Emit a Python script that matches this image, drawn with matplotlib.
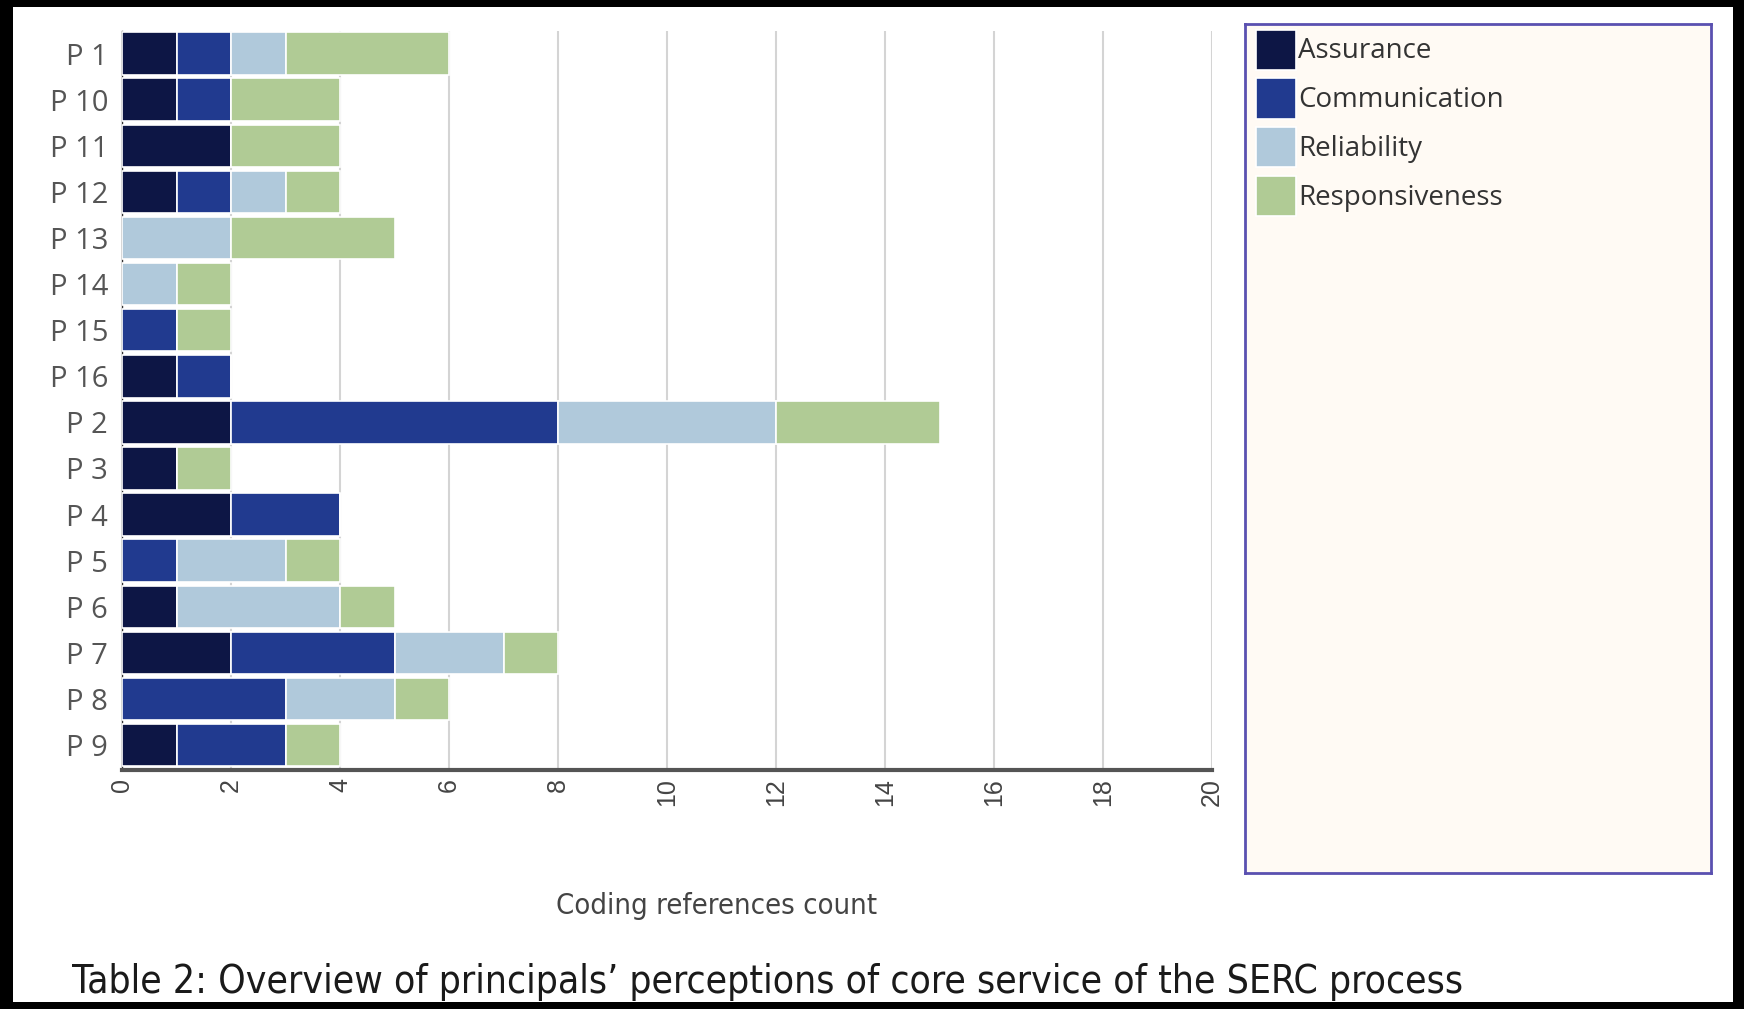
import matplotlib.pyplot as plt
from matplotlib.patches import Rectangle
import numpy as np

# participants, in the order they appear top to bottom
participants = ["P 1", "P 10", "P 11", "P 12", "P 13", "P 14", "P 15", "P 16",
                "P 2", "P 3", "P 4", "P 5", "P 6", "P 7", "P 8", "P 9"]

assurance      = [1, 1, 2, 1, 0, 0, 0, 1, 2, 1, 2, 0, 1, 2, 0, 1]
communication  = [1, 1, 0, 1, 0, 0, 1, 1, 6, 0, 2, 1, 0, 3, 3, 2]
reliability    = [1, 0, 0, 1, 2, 1, 0, 0, 4, 0, 0, 2, 3, 2, 2, 0]
responsiveness = [3, 2, 2, 1, 3, 1, 1, 0, 3, 1, 0, 1, 1, 1, 1, 1]

series = [("Assurance", assurance, "#0d1645"),
          ("Communication", communication, "#213a8f"),
          ("Reliability", reliability, "#b0c9db"),
          ("Responsiveness", responsiveness, "#b0cb95")]

W, H = 1744, 1009
fig = plt.figure(figsize=(W / 100, H / 100), dpi=100)
fig.patch.set_facecolor("black")
# white page inside the thick black frame
fig.add_artist(Rectangle((13 / W, 7 / H), (1733 - 13) / W, (1002 - 7) / H,
                         transform=fig.transFigure, facecolor="white",
                         edgecolor="none", zorder=0))

ax = fig.add_axes([122 / W, 239 / H, (1212 - 122) / W, (978 - 239) / H])
ax.set_facecolor("white")

y = np.arange(len(participants))
left = np.zeros(len(participants))
for name, vals, col in series:
    vals = np.array(vals)
    ax.barh(y, vals, left=left, height=0.92, color=col, edgecolor="white",
            linewidth=1.2, label=name, zorder=3)
    left += vals

ax.set_xlim(0, 20)
ax.set_ylim(15.54, -0.49)
ax.set_yticks(y)
ax.set_yticklabels(participants, fontsize=21, color="#555555", family="Open Sans")
ax.set_xticks(range(0, 21, 2))
ax.set_xticklabels([str(v) for v in range(0, 21, 2)], rotation=90,
                   fontsize=18, color="#444444", family="Liberation Sans")
ax.tick_params(axis="y", length=0, pad=10)
ax.tick_params(axis="x", length=0, pad=6)
ax.grid(axis="x", color="#d4d4d4", linewidth=1.5, zorder=0)
for s in ["top", "right"]:
    ax.spines[s].set_visible(False)
ax.spines["bottom"].set_color("#555555")
ax.spines["bottom"].set_linewidth(3)
ax.spines["left"].set_color("#333333")
ax.spines["left"].set_linewidth(1)

fig.text(717 / W, 1 - 906 / H, "Coding references count", ha="center",
         va="center", fontsize=21, color="#444444",
         family="DejaVu Sans", fontstretch="condensed")

fig.text(72 / W, 1 - 982 / H,
         "Table 2: Overview of principals\u2019 perceptions of core service of the SERC process",
         ha="left", va="center", fontsize=28, color="#1a1a1a",
         family="DejaVu Sans", fontstretch="condensed")

# legend box
lax = fig.add_axes([1245 / W, 136 / H, (1711 - 1245) / W, (985 - 136) / H])
lax.set_facecolor("#fffaf4")
lax.set_xticks([])
lax.set_yticks([])
for s in lax.spines.values():
    s.set_color("#5a50b0")
    s.set_linewidth(2)
handles, labels = ax.get_legend_handles_labels()
leg = lax.legend(handles, labels, loc="upper left", frameon=False,
                 bbox_to_anchor=(0.012, 1.0),
                 prop={"family": "Open Sans", "size": 20}, handlelength=1.44,
                 handleheight=1.84, handletextpad=0.08, labelspacing=0.32,
                 borderaxespad=0.1, borderpad=0.1)
for t in leg.get_texts():
    t.set_color("#333333")

fig.savefig("out.png", dpi=100, facecolor=fig.get_facecolor())
